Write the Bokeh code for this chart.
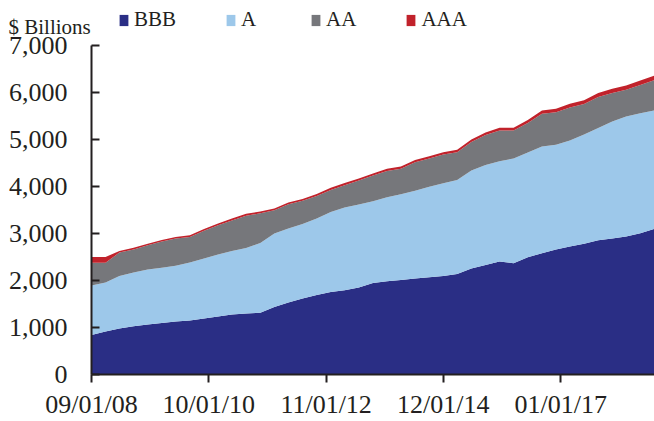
import pandas as pd
from bokeh.plotting import figure
from bokeh.models import (ColumnDataSource, Legend, LegendItem, Label, FixedTicker,
                          DatetimeTickFormatter, NumeralTickFormatter, Range1d)
from bokeh.embed import file_html
from bokeh.resources import INLINE

# quarterly observations, 09/2008 .. 09/2018 ($ billions)
dates = pd.date_range("2008-09-01", periods=41, freq="3MS")
BBB = [840, 915, 979, 1028, 1064, 1096, 1128, 1149, 1191, 1234, 1277, 1298, 1313, 1436,
       1532, 1617, 1691, 1755, 1791, 1851, 1947, 1985, 2011, 2043, 2070, 2096, 2138, 2255,
       2330, 2404, 2368, 2494, 2581, 2660, 2723, 2781, 2857, 2894, 2936, 3006, 3100]
A = [1054, 1042, 1117, 1142, 1170, 1174, 1185, 1234, 1277, 1319, 1351, 1393, 1485, 1564,
     1574, 1585, 1628, 1702, 1762, 1766, 1738, 1787, 1823, 1866, 1924, 1974, 2000, 2085,
     2127, 2134, 2228, 2229, 2270, 2227, 2256, 2325, 2388, 2489, 2553, 2554, 2517]
AA = [486, 423, 497, 491, 514, 557, 578, 542, 588, 620, 651, 688, 630, 492, 514, 492, 481,
      470, 476, 508, 547, 560, 542, 605, 599, 610, 593, 605, 637, 651, 593, 627, 696, 691,
      701, 648, 659, 606, 570, 600, 645]
AAA = [120, 120, 35, 35, 35, 35, 35, 35, 40, 40, 40, 40, 40, 40, 40, 40, 40, 45, 45, 45,
       45, 45, 50, 50, 50, 50, 50, 55, 55, 60, 60, 65, 70, 75, 80, 80, 85, 90, 90, 95, 100]

series_names = ["BBB", "A", "AA", "AAA"]
colors = ["#2a2e85", "#9dc8ea", "#76777b", "#c1222b"]
tick_dates = ["2008-09-01", "2010-10-01", "2012-11-01", "2014-12-01", "2017-01-01"]
y_ticks = [0, 1000, 2000, 3000, 4000, 5000, 6000, 7000]
unit_label = "$ Billions"

source = ColumnDataSource(dict(date=dates, BBB=BBB, A=A, AA=AA, AAA=AAA))

FONT = "Liberation Serif"
TXT = "#231f20"

W, H = 654, 421
AXIS_X = 91          # pixel where the value axis sits
start_ms = pd.Timestamp(dates[0]).value // 10**6
end_ms = pd.Timestamp(dates[-1]).value // 10**6
span = end_ms - start_ms
x_start = start_ms - span * AXIS_X / (W - AXIS_X)

# frame spans the whole canvas; both axes are pinned inside it
p = figure(width=W, height=H, x_axis_type="datetime", output_backend="svg",
           toolbar_location=None, title=None,
           x_range=Range1d(x_start, end_ms), y_range=Range1d(-1000, 7957),
           min_border_left=0, min_border_right=0, min_border_top=0, min_border_bottom=0)
p.outline_line_color = None
p.xgrid.grid_line_color = None
p.ygrid.grid_line_color = None
p.background_fill_color = "white"

renderers = p.varea_stack(stackers=series_names, x="date", color=colors, source=source)

legend = Legend(items=[LegendItem(label=n, renderers=[r]) for n, r in zip(series_names, renderers)],
                orientation="horizontal", location=(118, 389),
                label_text_font=FONT, label_text_font_size="21px", label_text_color=TXT,
                glyph_width=11, glyph_height=14, label_standoff=5, spacing=49,
                padding=0, margin=0, border_line_color=None, background_fill_alpha=0)
p.add_layout(legend, "center")

p.add_layout(Label(x=x_start, y=7000, x_units="data", y_units="data", x_offset=8, y_offset=18,
                   text=unit_label, text_font=FONT, text_font_size="21px", text_color=TXT,
                   text_baseline="alphabetic", text_align="left"))

tick_ms = [pd.Timestamp(d).value // 10**6 for d in tick_dates]
p.xaxis.ticker = FixedTicker(ticks=tick_ms)
p.xaxis.formatter = DatetimeTickFormatter(days="%m/%d/%y", months="%m/%d/%y", years="%m/%d/%y")
p.xaxis.bounds = (start_ms, end_ms)
p.xaxis.fixed_location = 0
p.yaxis.ticker = FixedTicker(ticks=y_ticks)
p.yaxis.formatter = NumeralTickFormatter(format="0,0")
p.yaxis.bounds = (0, 7000)
p.yaxis.fixed_location = start_ms

for ax in (p.xaxis[0], p.yaxis[0]):
    ax.axis_label = None
    ax.axis_label_standoff = 0
    ax.axis_line_color = TXT
    ax.axis_line_width = 2
    ax.major_tick_line_color = TXT
    ax.major_tick_line_width = 2
    ax.minor_tick_line_color = None
    ax.major_label_text_font = FONT
    ax.major_label_text_font_size = "26px"
    ax.major_label_text_color = TXT

p.yaxis.major_tick_in = 8
p.yaxis.major_tick_out = 0
p.yaxis.major_label_standoff = 24
p.xaxis.major_tick_in = 0
p.xaxis.major_tick_out = 8
p.xaxis.major_label_standoff = 8

open("out.html", "w").write(file_html(p, INLINE))
